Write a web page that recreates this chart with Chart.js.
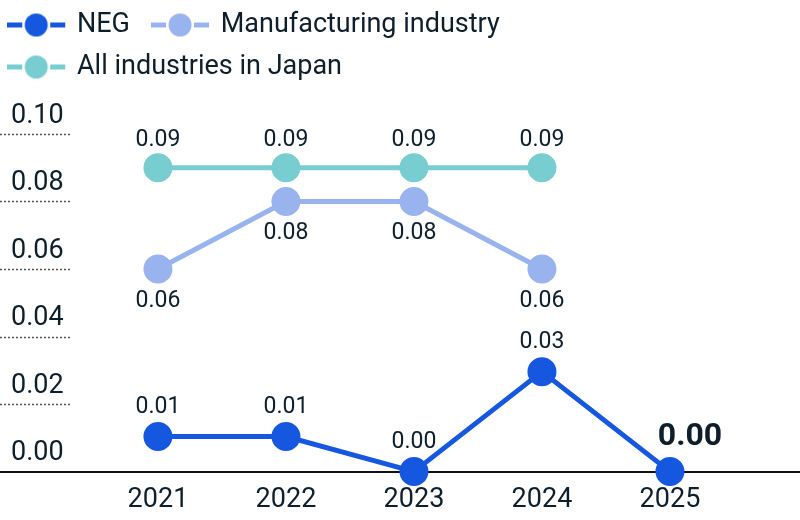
<!DOCTYPE html>
<html>
<head>
<meta charset="utf-8">
<script src="https://cdn.jsdelivr.net/npm/chart.js@4"></script>
<style>
  html, body { margin: 0; padding: 0; background: #fff; overflow: hidden; }
  #wrap { width: 800px; height: 520px; }
  canvas { display: block; }
</style>
</head>
<body>
<div id="wrap"><canvas id="chart"></canvas></div>
<script>
const years = ["2021", "2022", "2023", "2024", "2025"];
const neg = [0.0104, 0.0104, 0, 0.0296, 0];
const manufacturing = [0.06, 0.08, 0.08, 0.06];
const allJapan = [0.09, 0.09, 0.09, 0.09];
const yTicks = [0, 0.02, 0.04, 0.06, 0.08, 0.10];

const textColor = "#0e1e2b";
const colorNeg = "#1657e0";
const colorManu = "#99b3ef";
const colorAll = "#77cdd0";

Chart.defaults.font.family = "Roboto";
Chart.defaults.color = textColor;

// legend symbol: dash - dot - dash
function legendIcon(color) {
  const c = document.createElement("canvas");
  c.width = 64;
  c.height = 28;
  const g = c.getContext("2d");
  g.fillStyle = color;
  g.fillRect(0, 11, 15, 5);
  g.fillRect(43, 11, 15, 5);
  g.beginPath();
  g.arc(29, 13.5, 11.5, 0, Math.PI * 2);
  g.fill();
  return c;
}
const icons = [legendIcon(colorNeg), legendIcon(colorManu), legendIcon(colorAll)];

function points(values) {
  return values.map((v, i) => ({ x: i, y: v }));
}

const dottedGrid = {
  id: "dottedGrid",
  beforeDatasetsDraw(chart) {
    const ctx = chart.ctx;
    const y = chart.scales.y;
    ctx.save();
    ctx.strokeStyle = "#555";
    ctx.lineWidth = 1.5;
    ctx.setLineDash([2, 2]);
    yTicks.forEach(v => {
      if (v === 0) return;
      const py = Math.round(y.getPixelForValue(v)) + 0.5;
      ctx.beginPath();
      ctx.moveTo(0, py);
      ctx.lineTo(72, py);
      ctx.stroke();
    });
    ctx.restore();
  }
};

const valueLabels = {
  id: "valueLabels",
  afterDatasetsDraw(chart) {
    const ctx = chart.ctx;
    ctx.save();
    ctx.textAlign = "center";
    ctx.textBaseline = "middle";
    ctx.fillStyle = textColor;
    chart.data.datasets.forEach((ds, di) => {
      const meta = chart.getDatasetMeta(di);
      meta.data.forEach((pt, i) => {
        const value = ds.data[i].y;
        const last = di === 0 && i === years.length - 1;
        ctx.font = last ? "bold 32px Roboto" : "23px Roboto";
        const dx = last ? 20 : 0;
        const dy = last ? -34.5 : ds.labelShift;
        ctx.fillText(value.toFixed(2), pt.x + dx, pt.y + dy);
      });
    });
    ctx.restore();
  }
};

new Chart(document.getElementById("chart"), {
  type: "line",
  data: {
    datasets: [
      {
        label: "NEG",
        data: points(neg),
        borderColor: colorNeg,
        backgroundColor: colorNeg,
        labelShift: -29.5
      },
      {
        label: "Manufacturing industry",
        data: points(manufacturing),
        borderColor: colorManu,
        backgroundColor: colorManu,
        labelShift: 32
      },
      {
        label: "All industries in Japan",
        data: points(allJapan),
        borderColor: colorAll,
        backgroundColor: colorAll,
        labelShift: -27
      }
    ]
  },
  options: {
    responsive: true,
    maintainAspectRatio: false,
    animation: false,
    events: [],
    layout: { autoPadding: false, padding: { top: -3, left: 0, right: 0, bottom: -8 } },
    elements: {
      line: { borderWidth: 5, tension: 0 },
      point: { radius: 13, borderWidth: 3, borderColor: "#fff" }
    },
    datasets: { line: { clip: false } },
    scales: {
      x: {
        type: "linear",
        min: -1.234,
        max: 5.016,
        grid: { display: false, drawTicks: false },
        border: { display: true, color: "#111", width: 2 },
        afterBuildTicks: s => { s.ticks = years.map((y, i) => ({ value: i })); },
        afterFit: s => { s.paddingLeft = 0; s.paddingRight = 0; },
        ticks: {
          autoSkip: false,
          maxRotation: 0,
          padding: 12,
          font: { size: 27 },
          color: textColor,
          callback: v => years[v] || ""
        }
      },
      y: {
        position: "left",
        min: 0,
        max: 0.1127,
        grid: { display: false, drawTicks: false },
        border: { display: false },
        afterBuildTicks: s => { s.ticks = yTicks.map(v => ({ value: v })); },
        afterFit: s => { s.width = 0; },
        ticks: {
          mirror: true,
          padding: 11,
          labelOffset: -18,
          font: { size: 27 },
          color: textColor,
          callback: v => v.toFixed(2)
        }
      }
    },
    plugins: {
      tooltip: { enabled: false },
      legend: {
        position: "top",
        align: "start",
        labels: {
          usePointStyle: true,
          pointStyleWidth: 48.5,
          padding: 15,
          font: { size: 27 },
          color: textColor,
          generateLabels(chart) {
            const items = Chart.defaults.plugins.legend.labels.generateLabels(chart);
            items.forEach((it, i) => {
              it.pointStyle = icons[i];
              // a little extra room after the first entry
              if (i === 0) it.text = it.text + "\u2002";
            });
            return items;
          }
        }
      }
    }
  },
  plugins: [dottedGrid, valueLabels]
});
</script>
</body>
</html>
